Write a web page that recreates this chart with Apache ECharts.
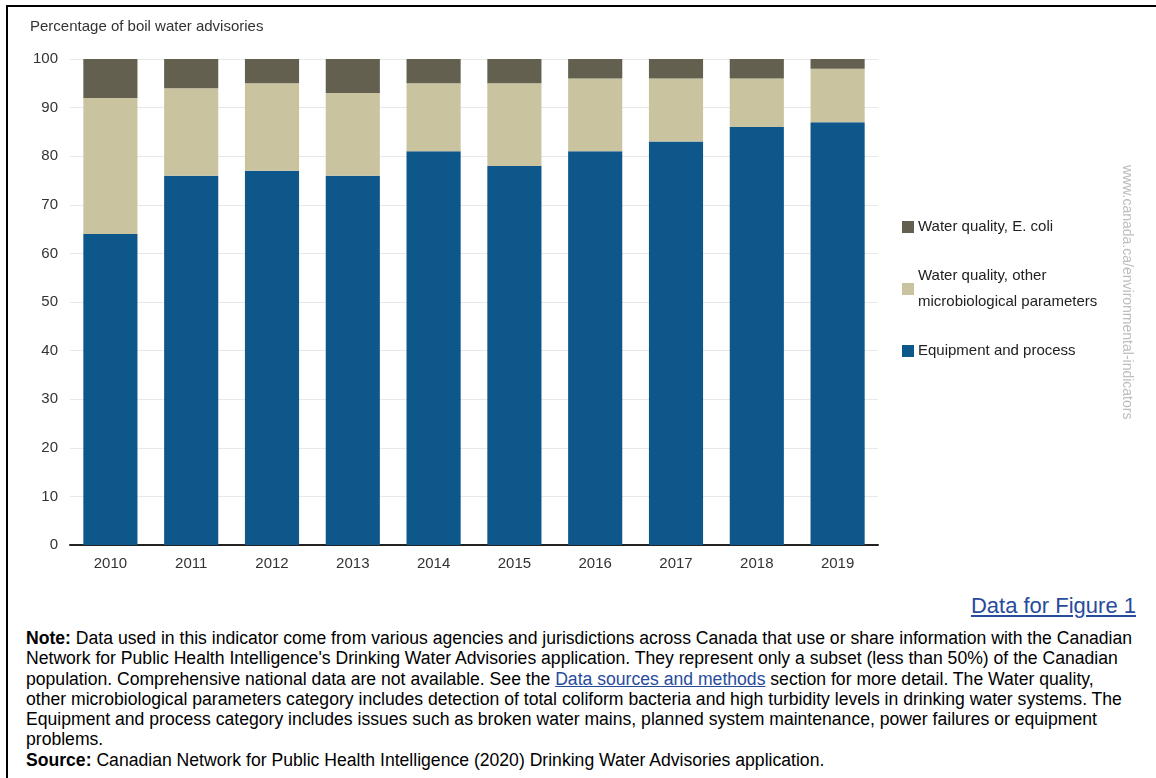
<!DOCTYPE html>
<html>
<head>
<meta charset="utf-8">
<script src="https://cdn.jsdelivr.net/npm/echarts@6/dist/echarts.min.js"></script>
<style>
  html, body { margin: 0; padding: 0; background: #fff; }
  #wrap { position: relative; width: 1156px; height: 778px; overflow: hidden; font-family: Arial, "Liberation Sans", sans-serif; }
  #frame { position: absolute; left: 6px; top: 5px; right: -10px; bottom: -10px; border-left: 2px solid #000; border-top: 2px solid #000; }
  #echar { position: absolute; left: 0; top: 0; width: 1156px; height: 590px; }
  #link { position: absolute; right: 20px; top: 593px; font-size: 22px; color: #284b9c; text-decoration: underline; }
  #note { position: absolute; left: 26px; top: 628px; font-size: 17.6px; line-height: 20.3px; color: #000; white-space: nowrap; }
  #note a { color: #284b9c; text-decoration: underline; }
</style>
</head>
<body>
<div id="wrap">
  <div id="frame"></div>
  <div id="echar"></div>
  <div id="link">Data for Figure 1</div>
  <div id="note">
    <b>Note:</b> Data used in this indicator come from various agencies and jurisdictions across Canada that use or share information with the Canadian<br>
    Network for Public Health Intelligence's Drinking Water Advisories application. They represent only a subset (less than 50%) of the Canadian<br>
    population. Comprehensive national data are not available. See the <a>Data sources and methods</a> section for more detail. The Water quality,<br>
    other microbiological parameters category includes detection of total coliform bacteria and high turbidity levels in drinking water systems. The<br>
    Equipment and process category includes issues such as broken water mains, planned system maintenance, power failures or equipment<br>
    problems.<br>
    <b>Source:</b> Canadian Network for Public Health Intelligence (2020) Drinking Water Advisories application.
  </div>
</div>
<script>
// 数据
var years = ['2010', '2011', '2012', '2013', '2014', '2015', '2016', '2017', '2018', '2019'];
var equipment = [64, 76, 77, 76, 81, 78, 81, 83, 86, 87];
var otherMicro = [28, 18, 18, 17, 14, 17, 15, 13, 10, 11];
var eColi = [8, 6, 5, 7, 5, 5, 4, 4, 4, 2];

var myChart = echarts.init(document.getElementById('echar'));

var option = {
    animation: false,
    textStyle: { fontFamily: 'Arial, "Liberation Sans", sans-serif' },
    title: {
        text: 'Percentage of boil water advisories',
        left: 25,
        top: 14,
        textStyle: { fontSize: 15, fontWeight: 'normal', color: '#333' }
    },
    grid: { left: 70, right: 278, top: 59, bottom: 45, containLabel: false },
    legend: {
        orient: 'vertical',
        left: 897,
        top: 209,
        itemWidth: 12,
        itemHeight: 12,
        itemGap: 23,
        icon: 'rect',
        data: ['Water quality, E. coli', 'Water quality, other\nmicrobiological parameters', 'Equipment and process'],
        textStyle: { fontSize: 15, color: '#222', lineHeight: 26, padding: [0, 0, 0, -1] }
    },
    xAxis: {
        type: 'category',
        data: years,
        axisLine: { lineStyle: { color: '#222', width: 2 } },
        axisTick: { show: false },
        axisLabel: { fontSize: 15, color: '#333', margin: 11 }
    },
    yAxis: {
        type: 'value',
        min: 0,
        max: 100,
        interval: 10,
        axisLine: { show: false },
        axisTick: { show: false },
        splitLine: { lineStyle: { color: '#e8e8e8', width: 1 } },
        axisLabel: { fontSize: 15, color: '#333', margin: 12 }
    },
    graphic: [{
        type: 'text',
        x: 1134,
        y: 165,
        rotation: -Math.PI / 2,
        style: {
            text: 'www.canada.ca/environmental-indicators',
            font: '14px Arial, "Liberation Sans", sans-serif',
            fill: '#bdbdbd'
        }
    }],
    series: [{
        name: 'Equipment and process',
        type: 'bar',
        stack: 'total',
        barWidth: '67%',
        data: equipment,
        itemStyle: { color: '#0e578b' }
    }, {
        name: 'Water quality, other\nmicrobiological parameters',
        type: 'bar',
        stack: 'total',
        data: otherMicro,
        itemStyle: { color: '#c9c3a0' }
    }, {
        name: 'Water quality, E. coli',
        type: 'bar',
        stack: 'total',
        data: eColi,
        itemStyle: { color: '#636050' }
    }]
};

myChart.setOption(option);
</script>
</body>
</html>
